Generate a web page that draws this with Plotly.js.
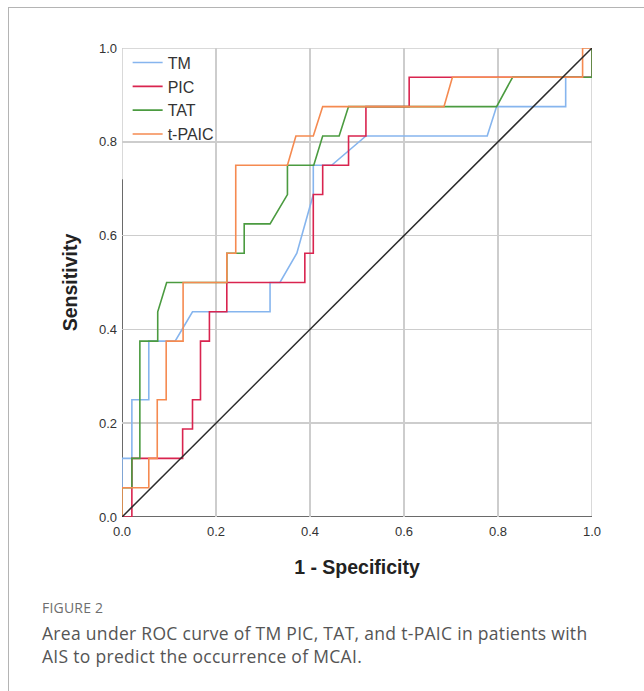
<!DOCTYPE html>
<html>
<head>
<meta charset="utf-8">
<script src="https://cdn.plot.ly/plotly-3.0.1.min.js"></script>
<style>
  html, body { margin: 0; padding: 0; background: #fff; }
  #wrap { position: relative; width: 644px; height: 691px; overflow: hidden; }
  #chart { position: absolute; left: 0; top: 0; width: 644px; height: 691px; }
  #btop { position: absolute; left: 8px; top: 7px; width: 636px; height: 0; border-top: 1.5px solid #b4b4b4; }
  #bleft { position: absolute; left: 8px; top: 7px; width: 0; height: 684px; border-left: 1.5px solid #b4b4b4; }
  #cap { position: absolute; left: 42px; top: 597px; width: 600px; font-family: "Open Sans", "Noto Sans", sans-serif; color: #555; }
  #cap .fig { font-size: 14px; color: #6e6e6e; letter-spacing: 0.2px; line-height: 22px; }
  #cap .txt { font-size: 17.5px; line-height: 23px; margin-top: 3px; letter-spacing: 0.3px; white-space: nowrap; }
</style>
</head>
<body>
<div id="wrap">
  <div id="chart"></div>
  <div id="btop"></div>
  <div id="bleft"></div>
  <div id="cap">
    <div class="fig">FIGURE 2</div>
    <div class="txt">Area under ROC curve of TM PIC, TAT, and t-PAIC in patients with<br>AIS to predict the occurrence of MCAI.</div>
  </div>
</div>
<script>
// Axis ticks
const tickVals = [0, 0.2, 0.4, 0.6, 0.8, 1.0];
const tickText = ["0.0", "0.2", "0.4", "0.6", "0.8", "1.0"];

// Series names
const seriesNames = ["TM", "PIC", "TAT", "t-PAIC"];

// TM ROC curve (1 - specificity, sensitivity)
const tmX = [0, 0, 0.021, 0.021, 0.057, 0.057, 0.113, 0.150, 0.315, 0.315, 0.336, 0.372, 0.407, 0.407, 0.446, 0.519, 0.777, 0.797, 0.944, 0.944, 1.0, 1.0];
const tmY = [0, 0.125, 0.125, 0.25, 0.25, 0.375, 0.375, 0.4375, 0.4375, 0.5, 0.5, 0.5625, 0.6875, 0.75, 0.75, 0.8125, 0.8125, 0.875, 0.875, 0.9375, 0.9375, 1.0];

// PIC ROC curve
const picX = [0, 0.021, 0.021, 0.129, 0.129, 0.150, 0.150, 0.167, 0.167, 0.186, 0.186, 0.223, 0.223, 0.389, 0.389, 0.407, 0.407, 0.427, 0.427, 0.482, 0.482, 0.519, 0.519, 0.611, 0.611, 1.0, 1.0];
const picY = [0, 0, 0.125, 0.125, 0.1875, 0.1875, 0.25, 0.25, 0.375, 0.375, 0.4375, 0.4375, 0.5, 0.5, 0.5625, 0.5625, 0.6875, 0.6875, 0.75, 0.75, 0.8125, 0.8125, 0.875, 0.875, 0.9375, 0.9375, 1.0];

// TAT ROC curve
const tatX = [0, 0, 0.021, 0.021, 0.038, 0.038, 0.076, 0.076, 0.095, 0.223, 0.223, 0.260, 0.260, 0.315, 0.352, 0.352, 0.408, 0.427, 0.462, 0.482, 0.797, 0.831, 1.0, 1.0];
const tatY = [0, 0.0625, 0.0625, 0.125, 0.125, 0.375, 0.375, 0.4375, 0.5, 0.5, 0.5625, 0.5625, 0.625, 0.625, 0.6875, 0.75, 0.75, 0.8125, 0.8125, 0.875, 0.875, 0.9375, 0.9375, 1.0];

// t-PAIC ROC curve
const tpaicX = [0, 0, 0.057, 0.057, 0.075, 0.075, 0.094, 0.094, 0.130, 0.130, 0.223, 0.223, 0.242, 0.242, 0.352, 0.370, 0.407, 0.427, 0.685, 0.703, 0.980, 0.980, 1.0];
const tpaicY = [0, 0.0625, 0.0625, 0.125, 0.125, 0.25, 0.25, 0.375, 0.375, 0.5, 0.5, 0.5625, 0.5625, 0.75, 0.75, 0.8125, 0.8125, 0.875, 0.875, 0.9375, 0.9375, 1.0, 1.0];

// Reference (chance) line
const refX = [0, 1];
const refY = [0, 1];

const colors = ["#86b5ee", "#d9244f", "#4b9b40", "#f58a50"];
const xs = [tmX, picX, tatX, tpaicX];
const ys = [tmY, picY, tatY, tpaicY];

const traces = seriesNames.map((n, i) => ({
  type: "scatter", mode: "lines", name: n,
  x: xs[i], y: ys[i],
  line: { color: colors[i], width: 1.6 },
  hoverinfo: "skip"
}));
traces.push({
  type: "scatter", mode: "lines", name: "Reference",
  x: refX, y: refY, showlegend: false,
  line: { color: "#2b2b2b", width: 1.5 },
  hoverinfo: "skip"
});

const gridC = "#cdcdcd";
const axisC = "#6a6a6a";

const layout = {
  width: 644, height: 691,
  margin: { l: 122, r: 52, t: 48, b: 174 },
  paper_bgcolor: "rgba(0,0,0,0)",
  plot_bgcolor: "#fff",
  font: { family: "Arial, 'Liberation Sans', sans-serif", color: "#333" },
  showlegend: true,
  legend: {
    x: 0.012, y: 1.005, xanchor: "left", yanchor: "top",
    bgcolor: "rgba(255,255,255,0)", borderwidth: 0,
    font: { size: 16, color: "#333", family: "Arial, 'Liberation Sans', sans-serif" },
    traceorder: "normal"
  },
  xaxis: {
    range: [0, 1], tickvals: tickVals, ticktext: tickText,
    showgrid: true, gridcolor: gridC, gridwidth: 1.5,
    zeroline: false, showline: false, ticks: "",
    ticklabelstandoff: 5,
    tickfont: { size: 13, color: "#333" },
    title: { text: "<b>1 - Specificity</b>", font: { size: 19.5, color: "#222" }, standoff: 22 },
    fixedrange: true
  },
  yaxis: {
    range: [0, 1], tickvals: tickVals, ticktext: tickText,
    showgrid: true, gridcolor: gridC, gridwidth: 1.5,
    zeroline: false, showline: false, ticks: "",
    ticklabelstandoff: 4,
    tickfont: { size: 13, color: "#333" },
    title: { text: "<b>Sensitivity</b>", font: { size: 19.5, color: "#222" }, standoff: 16 },
    fixedrange: true
  },
  shapes: [
    { type: "line", xref: "x", yref: "y", x0: 0, x1: 1, y0: 1, y1: 1, line: { color: gridC, width: 1.5 }, layer: "below" },
    { type: "line", xref: "x", yref: "y", x0: 1, x1: 1, y0: 0, y1: 1, line: { color: gridC, width: 1.5 }, layer: "below" },
    { type: "line", xref: "x", yref: "y", x0: 0, x1: 0, y0: 0.72, y1: 1, line: { color: gridC, width: 1.5 }, layer: "below" },
    { type: "line", xref: "x", yref: "y", x0: 0, x1: 1, y0: 0, y1: 0, line: { color: axisC, width: 2 }, layer: "below" },
    { type: "line", xref: "x", yref: "y", x0: 0, x1: 0, y0: 0, y1: 0.72, line: { color: axisC, width: 2 }, layer: "below" }
  ]
};

Plotly.newPlot("chart", traces, layout, { staticPlot: true, displayModeBar: false });
</script>
</body>
</html>
